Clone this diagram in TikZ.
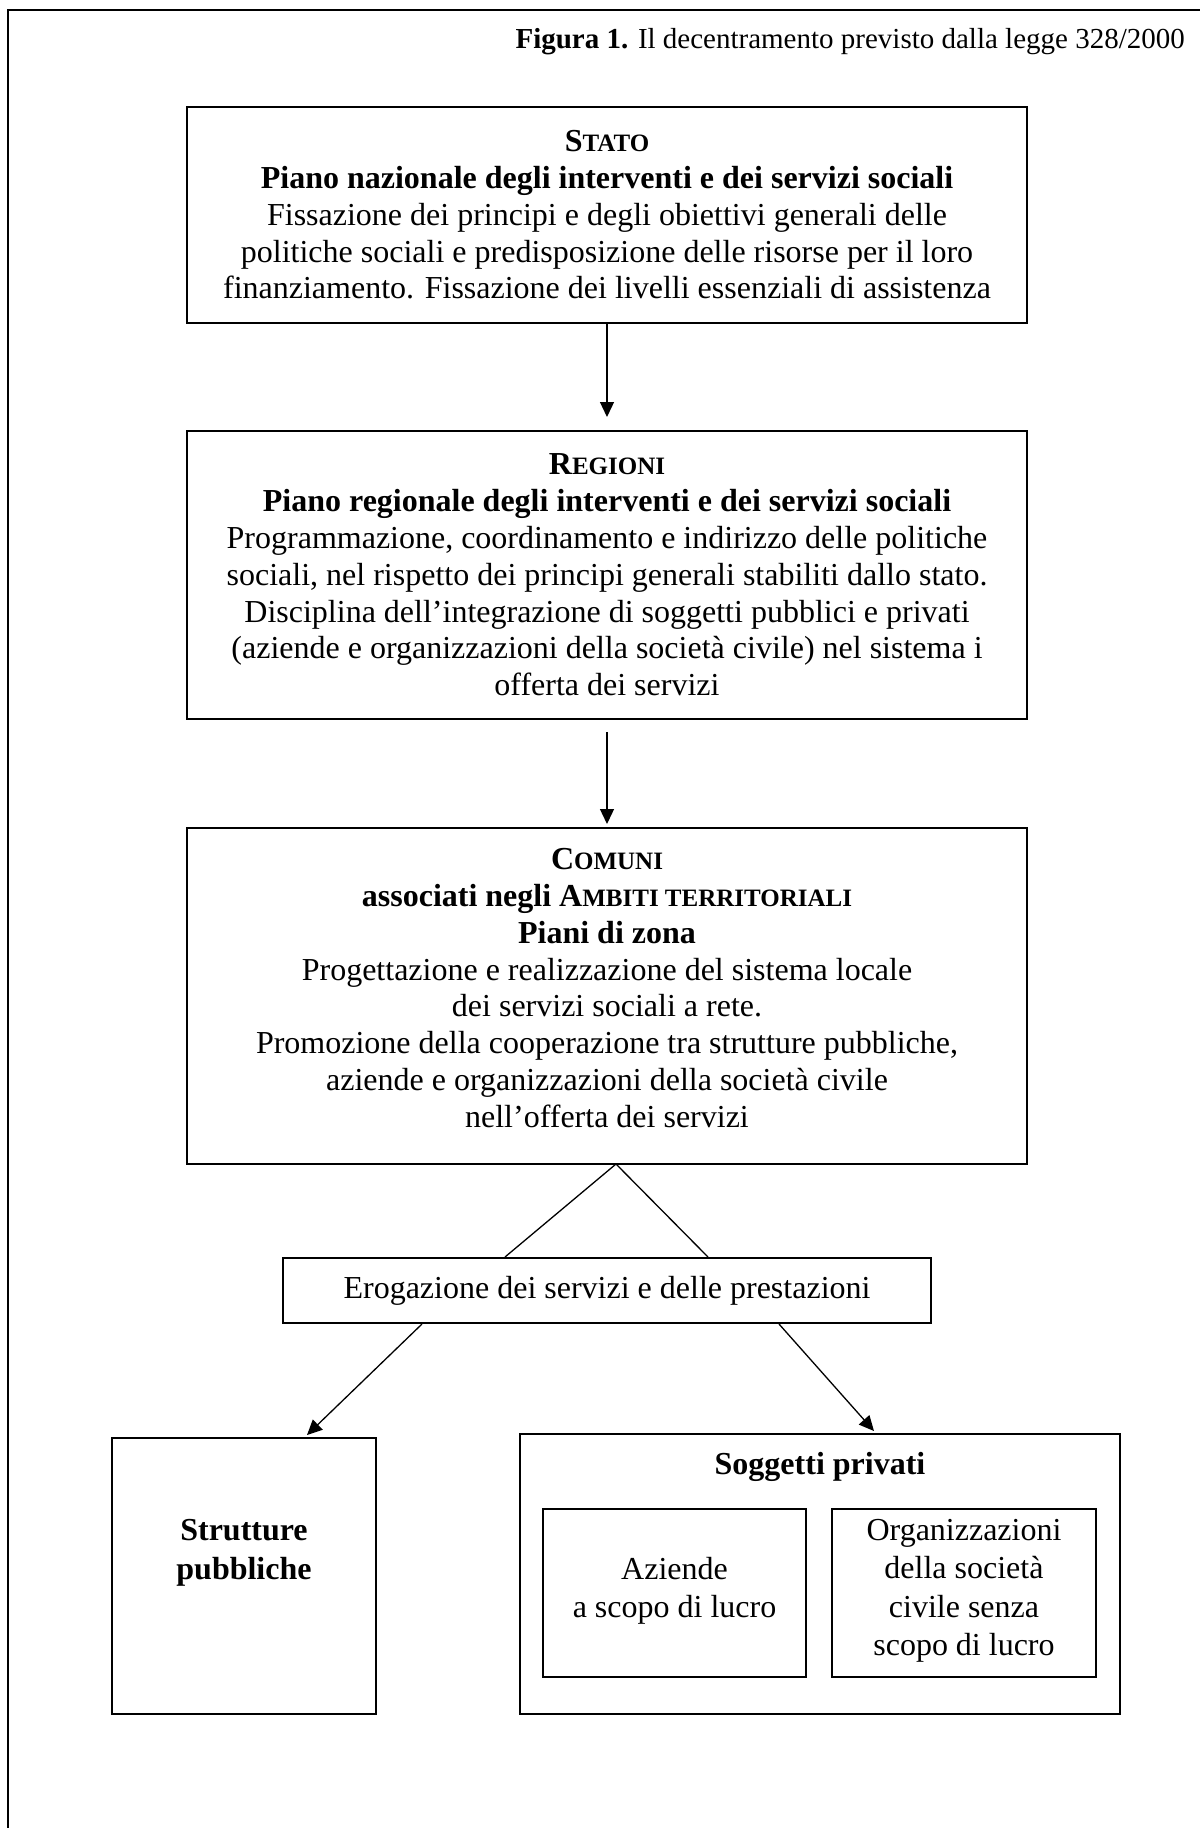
\documentclass[tikz,border=0pt]{standalone}
\usepackage{fontspec}
\setmainfont{Liberation Serif}
\usetikzlibrary{arrows.meta}
\newcommand\smc[1]{{\fontsize{25}{25}\selectfont #1}}
\begin{document}
\begin{tikzpicture}[x=1pt,y=-1pt,
  box/.style={draw,line width=2pt,align=center,inner sep=0pt},
  txt/.style={font=\fontsize{32}{36.8}\selectfont,align=center,inner sep=0pt},
  txts/.style={font=\fontsize{32}{38.5}\selectfont,align=center,inner sep=0pt},
  arr/.style={line width=1.3pt,-{Triangle[length=15pt,width=14pt]}},
  thinline/.style={line width=1.3pt}]
\useasboundingbox (0,0) rectangle (1200,1828);
\draw[line width=2.2pt] (8,1828) -- (8,10) -- (1200,10);
\node[font=\fontsize{29}{33}\selectfont,anchor=east,inner sep=0pt] (title) at (1185,42) {\textbf{Figura 1.} Il decentramento previsto dalla legge 328/2000};
% STATO
\node[box,txt,minimum width=840pt,minimum height=216pt] (stato) at (607,215)
 {{\bfseries S\smc{TATO}}\\
  {\bfseries Piano nazionale degli interventi e dei servizi sociali}\\
  Fissazione dei principi e degli obiettivi generali delle\\
  politiche sociali e predisposizione delle risorse per il loro\\
  finanziamento. Fissazione dei livelli essenziali di assistenza};
% REGIONI
\node[box,txt,minimum width=840pt,minimum height=288pt] (regioni) at (607,575)
 {{\bfseries R\smc{EGIONI}}\\
  {\bfseries Piano regionale degli interventi e dei servizi sociali}\\
  Programmazione, coordinamento e indirizzo delle politiche\\
  sociali, nel rispetto dei principi generali stabiliti dallo stato.\\
  Disciplina dell’integrazione di soggetti pubblici e privati\\
  (aziende e organizzazioni della società civile) nel sistema i\\
  offerta dei servizi};
% COMUNI
\node[box,minimum width=840pt,minimum height=336pt] (comuni) at (607,996) {};
\node[txt] (comunitxt) at (607,988)
 {{\bfseries C\smc{OMUNI}}\\
  {\bfseries associati negli A\smc{MBITI TERRITORIALI}}\\
  {\bfseries Piani di zona}\\
  Progettazione e realizzazione del sistema locale\\
  dei servizi sociali a rete.\\
  Promozione della cooperazione tra strutture pubbliche,\\
  aziende e organizzazioni della società civile\\
  nell’offerta dei servizi};
% Erogazione
\node[box,txt,minimum width=648pt,minimum height=65pt] (erog) at (607,1290.5)
 {Erogazione dei servizi e delle prestazioni};
% Strutture pubbliche
\node[box,minimum width=264pt,minimum height=276pt] (strut) at (244,1576) {};
\node[txts] (struttxt) at (244,1553) {\bfseries Strutture\\\bfseries pubbliche};
% Soggetti privati
\node[box,minimum width=600pt,minimum height=280pt] (sogg) at (820,1574) {};
\node[txts] (soggtxt) at (820,1467) {\bfseries Soggetti privati};
\node[box,minimum width=263pt,minimum height=168pt] (az) at (674.5,1593) {};
\node[txts] (aztxt) at (674.5,1591) {Aziende\\a scopo di lucro};
\node[box,minimum width=264pt,minimum height=168pt] (org) at (964,1593) {};
\node[txts] (orgtxt) at (964,1591) {Organizzazioni\\della società\\civile senza\\scopo di lucro};
% connectors
\draw[arr] (stato.south) -- ([yshift=13pt]regioni.north);
\draw[arr] ([yshift=-12pt]regioni.south) -- ([yshift=3pt]comuni.north);
\draw[thinline] ([xshift=-102pt]erog.north) -- ([xshift=9pt,yshift=1pt]comuni.south) -- ([xshift=101pt]erog.north);
\draw[arr] ([xshift=-185pt]erog.south) -- ([xshift=63pt,yshift=2pt]strut.north);
\draw[arr] ([xshift=172pt]erog.south) -- ([xshift=54pt,yshift=2pt]sogg.north);
\end{tikzpicture}
\end{document}
